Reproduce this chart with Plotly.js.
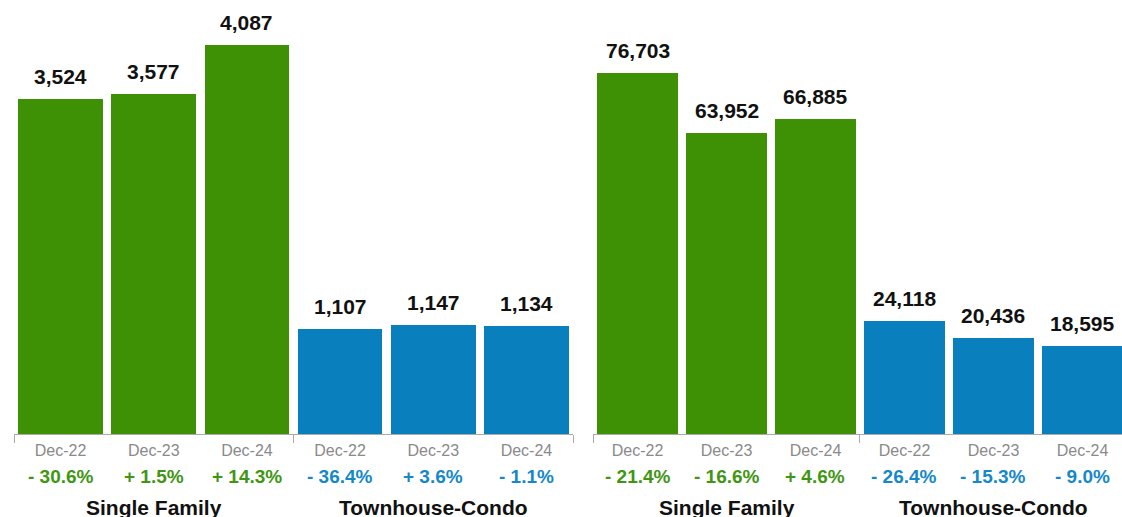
<!DOCTYPE html>
<html>
<head>
<meta charset="utf-8">
<script src="https://cdn.plot.ly/plotly-3.0.1.min.js"></script>
<style>html,body{margin:0;padding:0;background:#fff;overflow:hidden}#chart{width:1122px;height:517px}</style>
</head>
<body>
<div id="chart"></div>
<script>
// ---- data ----
const periods = ['Dec-22', 'Dec-23', 'Dec-24'];
const groups = ['Single Family', 'Townhouse-Condo'];

const leftSingleFamily = [3524, 3577, 4087];
const leftTownhouse = [1107, 1147, 1134];
const leftSingleFamilyChange = [-30.6, 1.5, 14.3];
const leftTownhouseChange = [-36.4, 3.6, -1.1];

const rightSingleFamily = [76703, 63952, 66885];
const rightTownhouse = [24118, 20436, 18595];
const rightSingleFamilyChange = [-21.4, -16.6, 4.6];
const rightTownhouseChange = [-26.4, -15.3, -9.0];

// ---- styles ----
const GREEN = 'rgb(62,145,4)';
const BLUE = 'rgb(10,127,190)';
const GREEN_TXT = 'rgb(64,150,18)';
const BLUE_TXT = 'rgb(22,136,200)';
const FONT = 'Liberation Sans, Arial, Helvetica, sans-serif';

const fmtNum = v => v.toLocaleString('en-US');
const fmtChg = v => (v < 0 ? '- ' : '+ ') + Math.abs(v).toFixed(1) + '%';

const xs = [0, 1, 2, 3, 4, 5];
const tickText = periods.concat(periods);

function panel(sf, tc, sfChg, tcChg, xa, ya, width) {
  const vals = sf.concat(tc);
  const chg = sfChg.concat(tcChg);
  const colors = sf.map(() => GREEN).concat(tc.map(() => BLUE));
  const txtColors = sf.map(() => GREEN_TXT).concat(tc.map(() => BLUE_TXT));
  const trace = {
    type: 'bar', x: xs, y: vals, width: width,
    marker: {color: colors, line: {width: 0}},
    xaxis: xa, yaxis: ya, hoverinfo: 'skip', showlegend: false
  };
  const xref = xa, yref = ya;
  const anns = [];
  vals.forEach((v, i) => {
    anns.push({x: xs[i], y: v, xref: xref, yref: yref, text: fmtNum(v),
      showarrow: false, yanchor: 'bottom', yshift: 9,
      font: {family: FONT, size: 21, color: '#111', weight: 'bold'}});
    anns.push({x: xs[i], y: 0.079, xref: xref, yref: 'paper', text: fmtChg(chg[i]),
      showarrow: false, yanchor: 'middle',
      font: {family: FONT, size: 19, color: txtColors[i], weight: 'bold'}});
  });
  groups.forEach((g, gi) => {
    anns.push({x: gi * 3 + 1, y: 0.019, xref: xref, yref: 'paper', text: g,
      showarrow: false, yanchor: 'middle',
      font: {family: FONT, size: 21, color: '#111', weight: 'bold'}});
  });
  return {trace, anns};
}

const L = panel(leftSingleFamily, leftTownhouse, leftSingleFamilyChange, leftTownhouseChange, 'x', 'y', 0.91);
const R = panel(rightSingleFamily, rightTownhouse, rightSingleFamilyChange, rightTownhouseChange, 'x2', 'y2', 0.92);

function xaxisDef(domain, range) {
  return {
    domain: domain, range: range, fixedrange: true,
    showgrid: false, zeroline: false,
    showline: true, linecolor: '#aaa', linewidth: 1,
    tickmode: 'array', tickvals: xs, ticktext: tickText, ticks: '',
    tickfont: {family: FONT, size: 16, color: '#8a8a8a'},
    ticklabelstandoff: 2,
    minor: {tickmode: 'array', tickvals: [-0.5, 2.5, 5.5], ticks: 'outside', ticklen: 8, tickcolor: '#aaa', tickwidth: 1, showgrid: false}
  };
}
function yaxisDef(range) {
  return {domain: [83 / 517, 1], range: range, visible: false, fixedrange: true, showgrid: false, zeroline: false};
}

const layout = {
  width: 1122, height: 517,
  margin: {l: 0, r: 0, t: 0, b: 0},
  paper_bgcolor: '#fff', plot_bgcolor: '#fff',
  xaxis: xaxisDef([14 / 1122, 573 / 1122], [-0.5, 5.5]),
  xaxis2: xaxisDef([593 / 1122, 1], [-0.5, 5.444]),
  yaxis: yaxisDef([0, 4560]),
  yaxis2: Object.assign(yaxisDef([0, 92220]), {anchor: 'x2'}),
  annotations: L.anns.concat(R.anns),
  bargap: 0
};
layout.xaxis.anchor = 'y';
layout.xaxis2.anchor = 'y2';

Plotly.newPlot('chart', [L.trace, R.trace], layout, {displayModeBar: false, staticPlot: true});
</script>
</body>
</html>
